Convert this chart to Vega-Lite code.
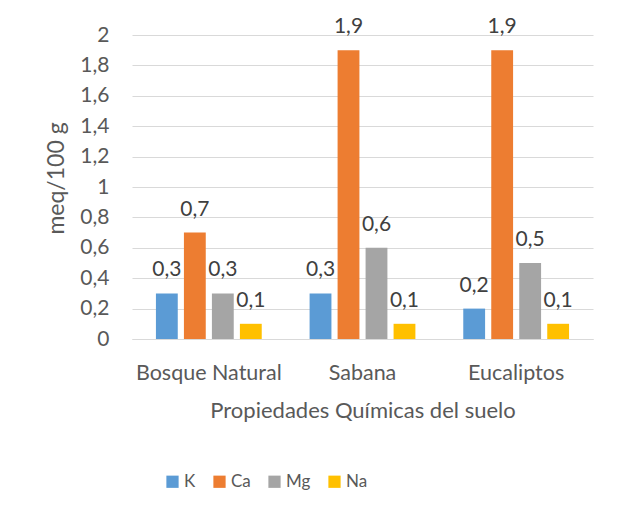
{
  "$schema": "https://vega.github.io/schema/vega-lite/v6.json",
  "width": 461,
  "height": 304,
  "autosize": {"type": "none"},
  "padding": {"left": 132, "top": 35, "right": 25, "bottom": 177},
  "background": "white",
  "config": {
    "locale": {"number": {"decimal": ",", "thousands": ".", "grouping": [3], "currency": ["", " €"]}},
    "font": "Lato",
    "view": {"stroke": null},
    "axis": {"labelColor": "#595959", "titleColor": "#595959", "labelFont": "Lato", "titleFont": "Lato", "titleFontWeight": "normal"},
    "legend": {"labelColor": "#595959", "labelFont": "Lato"}
  },
  "data": {
    "values": [
      {"sitio": "Bosque Natural", "elemento": "K", "valor": 0.3},
      {"sitio": "Bosque Natural", "elemento": "Ca", "valor": 0.7},
      {"sitio": "Bosque Natural", "elemento": "Mg", "valor": 0.3},
      {"sitio": "Bosque Natural", "elemento": "Na", "valor": 0.1},
      {"sitio": "Sabana", "elemento": "K", "valor": 0.3},
      {"sitio": "Sabana", "elemento": "Ca", "valor": 1.9},
      {"sitio": "Sabana", "elemento": "Mg", "valor": 0.6},
      {"sitio": "Sabana", "elemento": "Na", "valor": 0.1},
      {"sitio": "Eucaliptos", "elemento": "K", "valor": 0.2},
      {"sitio": "Eucaliptos", "elemento": "Ca", "valor": 1.9},
      {"sitio": "Eucaliptos", "elemento": "Mg", "valor": 0.5},
      {"sitio": "Eucaliptos", "elemento": "Na", "valor": 0.1}
    ]
  },
  "encoding": {
    "x": {
      "field": "sitio",
      "type": "nominal",
      "sort": ["Bosque Natural", "Sabana", "Eucaliptos"],
      "scale": {"paddingInner": 0, "paddingOuter": 0},
      "axis": {
        "title": "Propiedades Químicas del suelo",
        "titleFontSize": 22,
        "titlePadding": 17,
        "labelAngle": 0,
        "labelFontSize": 21.5,
        "labelPadding": 23,
        "ticks": false,
        "domainColor": "#d9d9d9",
        "domainWidth": 1
      }
    },
    "xOffset": {
      "field": "elemento",
      "type": "nominal",
      "sort": ["K", "Ca", "Mg", "Na"],
      "scale": {"paddingInner": 0.22, "paddingOuter": 0.855}
    },
    "y": {
      "field": "valor",
      "type": "quantitative",
      "scale": {"domain": [0, 2], "nice": false},
      "axis": {
        "title": "meq/100 g",
        "titleFontSize": 23,
        "titleX": -64,
        "titleY": 143,
        "values": [0, 0.2, 0.4, 0.6, 0.8, 1, 1.2, 1.4, 1.6, 1.8, 2],
        "format": ".1~f",
        "labelFontSize": 21,
        "labelPadding": 23,
        "ticks": false,
        "domain": false,
        "gridColor": "#d9d9d9",
        "gridWidth": 1
      }
    }
  },
  "layer": [
    {
      "mark": {"type": "bar"},
      "encoding": {
        "color": {
          "field": "elemento",
          "type": "nominal",
          "sort": ["K", "Ca", "Mg", "Na"],
          "scale": {"domain": ["K", "Ca", "Mg", "Na"], "range": ["#5B9BD5", "#ED7D31", "#A5A5A5", "#FFC000"]},
          "legend": {
            "title": null,
            "orient": "none",
            "direction": "horizontal",
            "legendX": 32,
            "legendY": 438,
            "symbolType": "square",
            "symbolSize": 150,
            "symbolStrokeWidth": 0,
            "labelFontSize": 17,
            "labelOffset": 3,
            "columnPadding": 15
          }
        }
      }
    },
    {
      "mark": {"type": "text", "baseline": "middle", "dy": -23, "fontSize": 21, "color": "#404040"},
      "encoding": {
        "text": {"field": "valor", "type": "quantitative", "format": ".1f"}
      }
    }
  ]
}
